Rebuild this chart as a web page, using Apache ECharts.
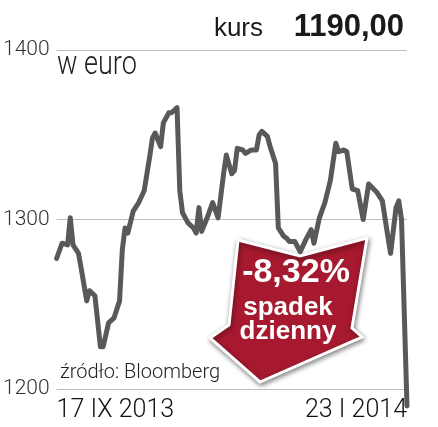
<!DOCTYPE html>
<html>
<head>
<meta charset="utf-8">
<script src="https://cdn.jsdelivr.net/npm/echarts@6/dist/echarts.min.js"></script>
<style>
  html, body { margin: 0; padding: 0; background: #fff; }
  #kursChart { width: 438px; height: 427px; }
</style>
</head>
<body>
<div id="kursChart"></div>
<script>
// dni od 17 IX 2013
const sessionDays = [0, 2, 4, 5, 6, 8, 9, 11, 12, 14, 16, 17, 19, 21, 23, 24, 25, 26, 28, 30,
  32, 34, 35, 36, 38, 39, 41, 42, 44, 45, 46, 48, 50, 51, 52, 53, 55, 57, 59, 61,
  62, 64, 65, 66, 68, 69, 71, 73, 74, 75, 77, 78, 80, 81, 83, 84, 85, 87, 89, 91,
  93, 94, 96, 98, 100, 102, 103, 105, 106, 108, 110, 112, 114, 117, 119, 121, 122, 124, 125, 126,
  128]
// kurs w euro
const kursValues = [1277, 1286, 1285, 1301, 1285, 1280, 1271, 1252, 1258, 1255, 1225, 1225, 1239, 1242, 1252, 1282, 1295, 1292, 1305, 1310,
  1317, 1337, 1348, 1351, 1343, 1357, 1363, 1363, 1366, 1317, 1304, 1298, 1295, 1292, 1307, 1293, 1301, 1310, 1301, 1327,
  1338, 1327, 1329, 1342, 1341, 1339, 1341, 1341, 1350, 1352, 1349, 1343, 1333, 1295, 1290, 1289, 1287, 1287, 1281, 1288,
  1294, 1286, 1301, 1310, 1323, 1345, 1340, 1341, 1340, 1318, 1317, 1300, 1321, 1316, 1311, 1290, 1280, 1307, 1311, 1300,
  1190]
const dateLabels = ['17 IX 2013', '23 I 2014']
const yTicks = [1200, 1300, 1400]

const lightFont = 'Roboto, "Liberation Sans", sans-serif'
const narrowFont = '"Liberation Sans Narrow", "Liberation Sans", sans-serif'

const kursChart = echarts.init(document.getElementById('kursChart'), null, { renderer: 'canvas' })

const arrowShape = [[238, 240], [300, 256], [367, 238], [352, 328], [362, 337], [260, 382], [210, 338], [229, 325]]

const kursChartOption = {
  backgroundColor: '#fff',
  animation: false,
  grid: { left: 55, right: 31, top: 50, height: 339 },
  xAxis: {
    type: 'value',
    min: sessionDays[0],
    max: sessionDays[sessionDays.length - 1],
    interval: sessionDays[sessionDays.length - 1],
    axisLine: { show: false },
    axisTick: { show: false },
    splitLine: { show: false },
    axisLabel: {
      margin: 9,
      fontFamily: lightFont,
      fontWeight: 300,
      fontSize: 25,
      color: '#111',
      alignMinLabel: 'left',
      alignMaxLabel: 'right',
      formatter: v => (v === sessionDays[0] ? dateLabels[0] : dateLabels[1])
    }
  },
  yAxis: {
    type: 'value',
    min: yTicks[0],
    max: yTicks[yTicks.length - 1],
    interval: yTicks[1] - yTicks[0],
    axisLine: { show: false },
    axisTick: { show: false },
    splitLine: { lineStyle: { color: '#bdbdbd', width: 1 } },
    axisLabel: {
      margin: 7,
      fontFamily: lightFont,
      fontWeight: 300,
      fontSize: 21,
      color: '#333',
      padding: [8, 0, 0, 0],
      formatter: v => String(v)
    }
  },
  series: [
    {
      type: 'line',
      data: sessionDays.map((d, i) => [d, kursValues[i]]),
      showSymbol: false,
      clip: false,
      lineStyle: { color: '#595959', width: 5, join: 'round', cap: 'round' },
      z: 2
    }
  ],
  graphic: [
    {
      type: 'text',
      right: 175,
      top: 16,
      style: { text: 'kurs', font: '26px ' + narrowFont, fill: '#1a1a1a' }
    },
    {
      type: 'text',
      right: 34,
      top: 12,
      style: { text: '1190,00', font: 'bold 31px "Liberation Sans", sans-serif', fill: '#1a1a1a' }
    },
    {
      type: 'text',
      x: 57,
      y: 49,
      scaleX: 0.82,
      style: { text: 'w euro', font: '300 33px ' + lightFont, fill: '#222' }
    },
    {
      type: 'text',
      left: 60,
      top: 363,
      style: { text: 'źródło: Bloomberg', font: '300 20px ' + lightFont, fill: '#222' }
    },
    {
      type: 'group',
      z: 100,
      children: [
        {
          type: 'polygon',
          shape: { points: arrowShape },
          style: {
            fill: '#a6192e',
            stroke: '#fff',
            lineWidth: 3,
            shadowBlur: 5,
            shadowColor: 'rgba(0,0,0,0.45)',
            shadowOffsetX: 1,
            shadowOffsetY: 2
          }
        },
        {
          type: 'text',
          x: 296,
          y: 273,
          style: { text: '-8,32%', font: 'bold 34px "Liberation Sans", sans-serif', fill: '#fff', align: 'center', verticalAlign: 'middle' }
        },
        {
          type: 'text',
          x: 288,
          y: 308,
          style: { text: 'spadek', font: 'bold 26px "Liberation Sans", sans-serif', fill: '#fff', align: 'center', verticalAlign: 'middle' }
        },
        {
          type: 'text',
          x: 288,
          y: 332,
          style: { text: 'dzienny', font: 'bold 26px "Liberation Sans", sans-serif', fill: '#fff', align: 'center', verticalAlign: 'middle' }
        }
      ]
    }
  ]
}

kursChart.setOption(kursChartOption, true)
</script>
</body>
</html>
